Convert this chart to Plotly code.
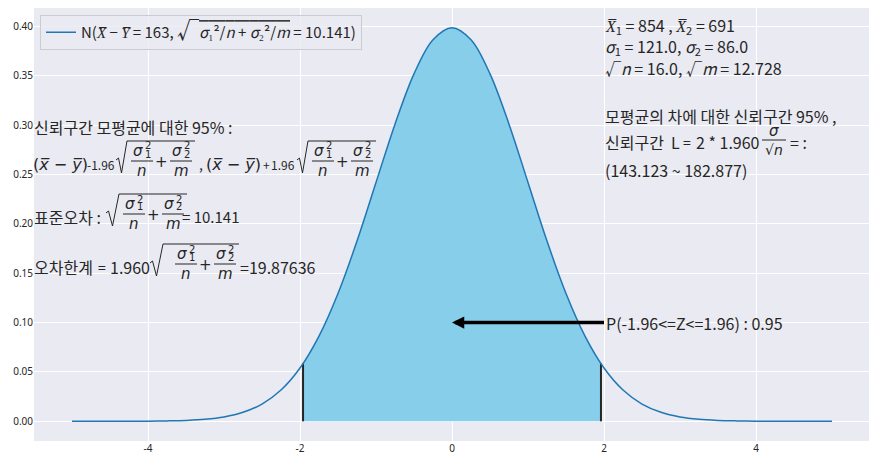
import plotly.graph_objects as go

# ---------------- data ----------------
curve_x = [-5.0, -4.75, -4.5, -4.25, -4.0, -3.75, -3.5, -3.25, -3.0, -2.75, -2.5, -2.25,
           -2.0, -1.75, -1.5, -1.25, -1.0, -0.75, -0.5, -0.25, 0.0, 0.25, 0.5, 0.75,
           1.0, 1.25, 1.5, 1.75, 2.0, 2.25, 2.5, 2.75, 3.0, 3.25, 3.5, 3.75, 4.0,
           4.25, 4.5, 4.75, 5.0]
curve_y = [0.0, 0.0, 0.0, 0.0, 0.0001, 0.0004, 0.0009, 0.0020, 0.0044, 0.0091, 0.0175, 0.0317,
           0.0540, 0.0863, 0.1295, 0.1826, 0.2420, 0.3011, 0.3521, 0.3867, 0.3989, 0.3867,
           0.3521, 0.3011, 0.2420, 0.1826, 0.1295, 0.0863, 0.0540, 0.0317, 0.0175, 0.0091,
           0.0044, 0.0020, 0.0009, 0.0004, 0.0001, 0.0, 0.0, 0.0, 0.0]
area_x = [-1.96, -1.75, -1.5, -1.25, -1.0, -0.75, -0.5, -0.25, 0.0, 0.25, 0.5, 0.75,
          1.0, 1.25, 1.5, 1.75, 1.96]
area_y = [0.0584, 0.0863, 0.1295, 0.1826, 0.2420, 0.3011, 0.3521, 0.3867, 0.3989, 0.3867,
          0.3521, 0.3011, 0.2420, 0.1826, 0.1295, 0.0863, 0.0584]
z_bounds = [-1.96, 1.96]
z_pdf = 0.0584
arrow_head = (0.0, 0.10)
arrow_tail = (2.0, 0.10)
x_ticks = [-4, -2, 0, 2, 4]
x_tick_text = ["-4", "-2", "0", "2", "4"]
y_ticks = [0.0, 0.05, 0.10, 0.15, 0.20, 0.25, 0.30, 0.35, 0.40]

mean1, mean2 = 854, 691
sigma1, sigma2 = 121.0, 86.0
sqrt_n, sqrt_m = 16.0, 12.728
diff_mean = 163
std_err = 10.141
z_val = 1.960
margin_err = 19.87636
ci_low, ci_high = 143.123, 182.877
coverage = 0.95

# ---------------- style ----------------
INK = "#262626"
TXT = "Noto Sans CJK KR"
MATH = "DejaVu Sans"
KS = 16  # korean text size
PAGE_OFF = 8                 # default page margin around the plot div
W, H = 877 - PAGE_OFF, 465 - PAGE_OFF
# plot area in window pixels: x 34..870, y 8..441
AX0, AX1, AY0, AY1 = 34, 870, 8, 441
ML, MT = AX0 - PAGE_OFF, AY0 - PAGE_OFF
MR, MB = W - (AX1 - PAGE_OFF), H - (AY1 - PAGE_OFF)
PW, PH = AX1 - AX0, AY1 - AY0

def px(x):
    return (x - AX0) / PW

def py(y):
    return (AY1 - y) / PH

ann = []
shp = []

def txt(x, y, s, size=15, family=TXT, anchor="left"):
    ann.append(dict(x=px(x), y=py(y), xref="paper", yref="paper", text=s,
                    showarrow=False, xanchor=anchor, yanchor="middle",
                    font=dict(size=size, family=family, color=INK)))

def hline(x0, x1, y, w=1):
    shp.append(dict(type="line", xref="paper", yref="paper", x0=px(x0), x1=px(x1),
                    y0=py(y), y1=py(y), line=dict(color=INK, width=w), layer="above"))

def radical(x0, rw, ty, x_end, top=23, bot=9):
    pts = [(x0, ty - 4), (x0 + 2.5, ty - 6), (x0 + rw * 0.5, ty + bot), (x0 + rw, ty - top)]
    path = "M " + " L ".join(f"{px(a):.5f},{py(b):.5f}" for a, b in pts)
    shp.append(dict(type="path", xref="paper", yref="paper", path=path,
                    line=dict(color=INK, width=1), layer="above"))
    hline(x0 + rw, x_end, ty - top)

def frac_sigma(cx, ty, k, den):
    # numerator sigma_k^2
    txt(cx - 4, ty - 13, "<i>σ</i>", 15, MATH, "center")
    txt(cx + 6, ty - 18, "2", 10, MATH, "center")
    txt(cx + 6, ty - 10, str(k), 10, MATH, "center")
    hline(cx - 11, cx + 11, ty - 3)
    txt(cx, ty + 7, f"<i>{den}</i>", 15, MATH, "center")

def sqrt_sum(x0, rw, c1, ty):
    radical(x0, rw, ty, c1 + 53)
    frac_sigma(c1, ty, 1, "n")
    txt(c1 + 19, ty - 2, "+", 15, MATH, "center")
    frac_sigma(c1 + 39, ty, 2, "m")

# ---------------- left block ----------------
txt(32, 127, "신뢰구간 모평균에 대한 95% :", KS)
ty = 164
txt(31, ty, "(<i>x̅</i> − <i>y̅</i>)", 16, MATH)
txt(117, ty, "-1.96", 12, TXT, "right")
sqrt_sum(116, 11, 142, ty)
txt(197, ty, ",", 14, TXT)
txt(204, ty, "(<i>x̅</i> − <i>y̅</i>)", 16, MATH)
txt(261, ty, "+", 12, TXT)
txt(297, ty, f"{1.96}", 12, TXT, "right")
sqrt_sum(297, 11, 323, ty)

ty = 217
txt(32, ty, "표준오차 :", KS)
sqrt_sum(106, 13, 134, ty)
txt(180, ty, f"= {std_err}", 15)

ty = 267
txt(32, ty, "오차한계", KS)
txt(96, ty, "=", 14)
txt(152, ty, f"{z_val:.3f}", 16, TXT, "right")
sqrt_sum(150, 13, 186, ty)
txt(238, ty, f"={margin_err}", 16)

# ---------------- right block ----------------
txt(603, 25, f"<i>X̅</i><sub>1</sub> = {mean1} , <i>X̅</i><sub>2</sub> = {mean2}", 16)
txt(603, 47, f"<i>σ</i><sub>1</sub> = {sigma1}, <i>σ</i><sub>2</sub> = {sigma2}", 16)
txt(603, 68, f"√<i>n</i> = {sqrt_n}, √<i>m</i> = {sqrt_m}", 16)
txt(603, 116, "모평균의 차에 대한 신뢰구간 95% ,", KS)
ty = 142
txt(603, ty, "신뢰구간", KS)
txt(669, ty, "L", KS)
txt(681, ty, "=", 14)
txt(762, ty, f"2 * {z_val:.3f}", 16, TXT, "right")
txt(774, ty - 11, "<i>σ</i>", 15, MATH, "center")
hline(762, 786, ty - 2)
txt(774, ty + 8, "√<i>n</i>", 14, MATH, "center")
txt(788, ty, "= :", 16)
txt(603, 170, f"({ci_low} ~ {ci_high})", 16)

# ---------------- arrow ----------------
ann.append(dict(x=arrow_head[0], y=arrow_head[1], ax=arrow_tail[0], ay=arrow_tail[1],
                xref="x", yref="y", axref="x", ayref="y",
                text=f"P(-1.96<=Z<=1.96) : {coverage}", xanchor="left", yanchor="middle",
                showarrow=True, arrowhead=2, arrowsize=0.7, arrowwidth=3.5,
                arrowcolor="black", font=dict(size=16, family=TXT, color=INK)))

# ---------------- traces ----------------
fig = go.Figure()
fig.add_trace(go.Scatter(x=area_x, y=area_y, mode="lines", fill="tozeroy",
                         fillcolor="#87CEEB", line=dict(width=0, shape="spline"),
                         showlegend=False, hoverinfo="skip"))
vx, vy = [], []
for b in z_bounds:
    vx += [b, b, None]
    vy += [0, z_pdf, None]
fig.add_trace(go.Scatter(x=vx, y=vy, mode="lines", line=dict(color=INK, width=2),
                         showlegend=False, hoverinfo="skip"))
fig.add_trace(go.Scatter(
    x=curve_x, y=curve_y, mode="lines", line=dict(color="#1f77b4", width=1.5, shape="spline"),
    name=(f"N(<i>X̅</i> − <i>Y̅</i> = {diff_mean}, <span style='font-size:22px'>√</span>"
          f"<span style='text-decoration:overline'>"
          f"<i>σ</i>₁²/<i>n</i> + <i>σ</i>₂²/<i>m</i></span> = {std_err})")))

fig.update_layout(
    width=W, height=H, margin=dict(l=ML, r=MR, t=MT, b=MB, autoexpand=False),
    paper_bgcolor="white", plot_bgcolor="#EAEAF2",
    font=dict(family=TXT, color=INK),
    showlegend=True,
    legend=dict(x=px(40), y=py(15), xanchor="left", yanchor="top",
                bgcolor="rgba(234,234,242,0.8)", bordercolor="#CCCCCC", borderwidth=1,
                font=dict(size=15, family=TXT, color=INK)),
    annotations=ann, shapes=shp,
)
fig.update_xaxes(range=[-5.5, 5.5], tickvals=x_ticks, ticktext=x_tick_text,
                 showgrid=True, gridcolor="white", gridwidth=1, zeroline=False, automargin=False,
                 ticks="", tickfont=dict(size=10, family="Noto Sans", color=INK), showline=False)
fig.update_yaxes(range=[-0.01995, 0.4188], tickvals=y_ticks, tickformat=".2f",
                 showgrid=True, gridcolor="white", gridwidth=1, zeroline=False, automargin=False,
                 ticks="", tickfont=dict(size=10, family="Noto Sans", color=INK), showline=False)

fig.write_html("out.html")
